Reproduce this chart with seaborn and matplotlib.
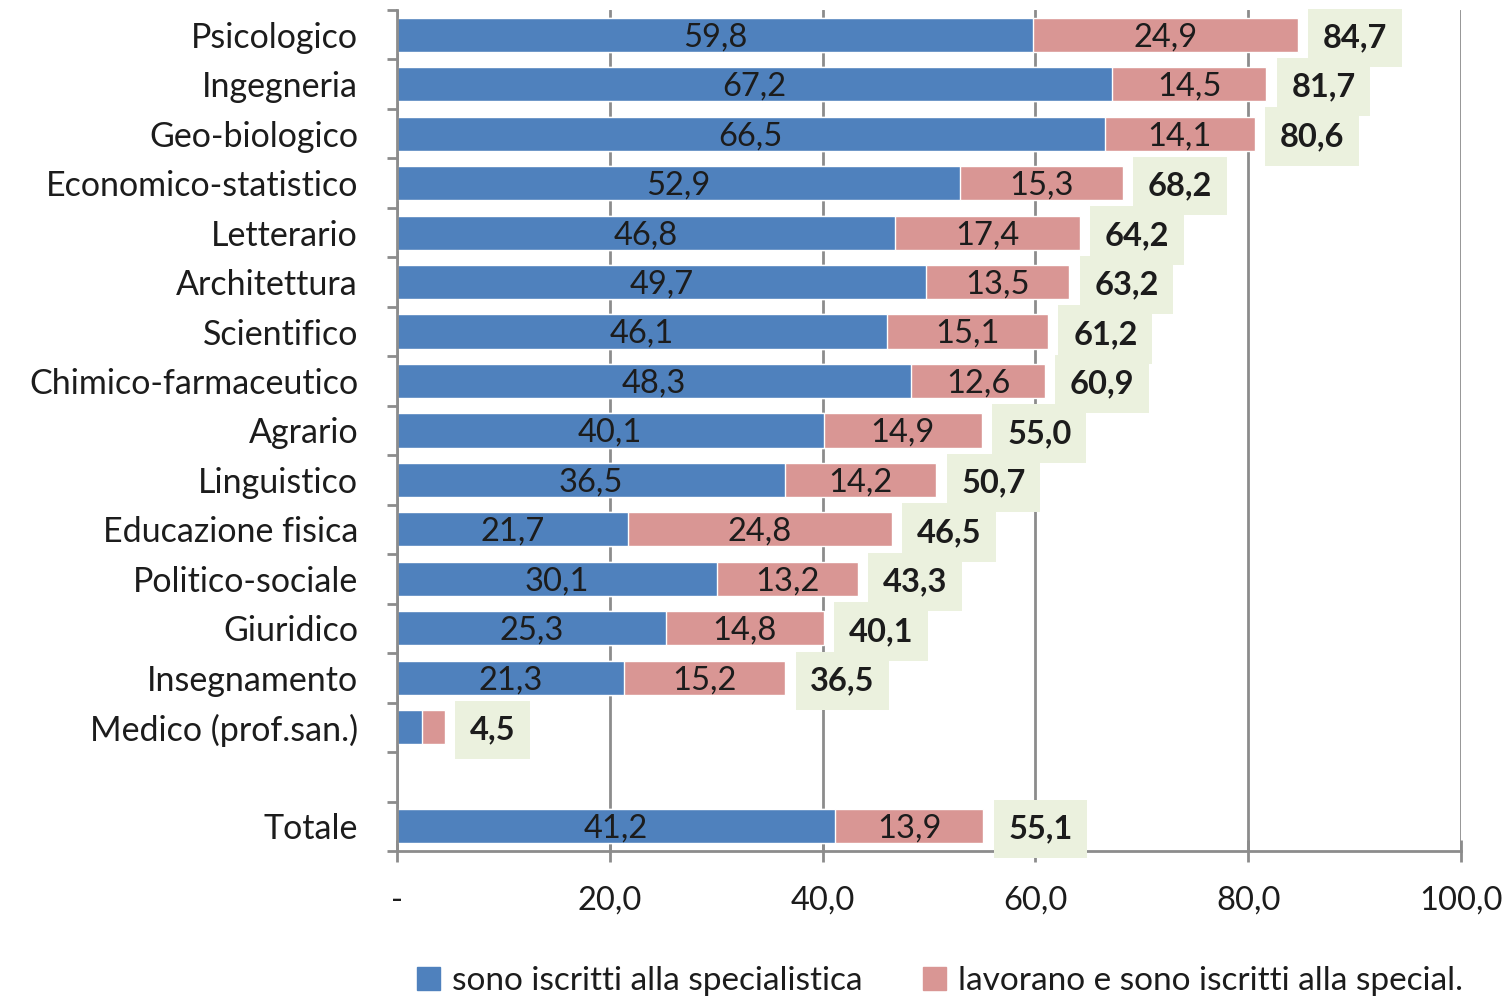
import matplotlib
matplotlib.use("Agg")
import matplotlib.pyplot as plt
import matplotlib.patches as mpatches
from matplotlib.ticker import FixedLocator, FuncFormatter
import seaborn as sns
import pandas as pd

categories = [
    "Psicologico", "Ingegneria", "Geo-biologico", "Economico-statistico",
    "Letterario", "Architettura", "Scientifico", "Chimico-farmaceutico",
    "Agrario", "Linguistico", "Educazione fisica", "Politico-sociale",
    "Giuridico", "Insegnamento", "Medico (prof.san.)", "Totale",
]
iscritti = [59.8, 67.2, 66.5, 52.9, 46.8, 49.7, 46.1, 48.3, 40.1, 36.5,
            21.7, 30.1, 25.3, 21.3, 2.4, 41.2]
lavorano = [24.9, 14.5, 14.1, 15.3, 17.4, 13.5, 15.1, 12.6, 14.9, 14.2,
            24.8, 13.2, 14.8, 15.2, 2.1, 13.9]
totali = [84.7, 81.7, 80.6, 68.2, 64.2, 63.2, 61.2, 60.9, 55.0, 50.7,
          46.5, 43.3, 40.1, 36.5, 4.5, 55.1]
series_names = ["sono iscritti alla specialistica",
                "lavorano e sono iscritti alla special."]

BLUE = "#4F81BD"
PINK = "#D99694"
BOXC = "#EBF1DE"
GRID = "#8C8C8C"
TXT = "#1C1C1C"

sns.set_theme(style="white")
plt.rcParams["font.family"] = ["Lato", "DejaVu Sans"]

df = pd.DataFrame({
    "cat": categories,
    "iscritti": iscritti,
    "lavorano": lavorano,
    "cumulato": [a + b for a, b in zip(iscritti, lavorano)],
    "totale": totali,
})
order = categories[:-1] + [" "] + categories[-1:]

fig = plt.figure(figsize=(15.11, 9.96), dpi=100)
ax = fig.add_axes([0.2627, 0.1456, 0.7042, 0.8444])

sns.barplot(data=df, y="cat", x="cumulato", order=order, orient="h",
            color=PINK, saturation=1, width=0.69, ax=ax, zorder=3)
sns.barplot(data=df, y="cat", x="iscritti", order=order, orient="h",
            color=BLUE, saturation=1, width=0.69, ax=ax, zorder=4)

ax.set_xlim(0, 100)
ax.set_ylim(len(order) - 0.5, -0.5)
ax.set_xlabel("")
ax.set_ylabel("")

FS = 23.5
pos = {c: order.index(c) for c in categories}
for _, r in df.iterrows():
    y = pos[r["cat"]]
    if r["iscritti"] > 5:
        ax.text(r["iscritti"] / 2, y + 0.05, f"{r['iscritti']:.1f}".replace(".", ","),
                ha="center", va="center", fontsize=FS, color=TXT, zorder=6)
    if r["lavorano"] > 5:
        ax.text(r["iscritti"] + r["lavorano"] / 2, y + 0.05,
                f"{r['lavorano']:.1f}".replace(".", ","),
                ha="center", va="center", fontsize=FS, color=TXT, zorder=6)
    ax.annotate(f"{r['totale']:.1f}".replace(".", ","),
                xy=(r["cumulato"], y), xytext=(25, -3), textcoords="offset pixels",
                ha="left", va="center", fontsize=FS, color=TXT, fontweight="bold",
                zorder=7,
                bbox=dict(boxstyle="square,pad=0.45", fc=BOXC, ec="none"))

# axes styling
for s in ("top", "right"):
    ax.spines[s].set_visible(False)
for s in ("left", "bottom"):
    ax.spines[s].set_color(GRID)
    ax.spines[s].set_linewidth(2)
    ax.spines[s].set_zorder(5)

ax.set_xticks([0, 20, 40, 60, 80, 100])
ax.xaxis.set_major_formatter(FuncFormatter(
    lambda v, p: "-" if v == 0 else f"{v:.1f}".replace(".", ",")))
ax.tick_params(axis="x", direction="inout", length=16, width=2, color=GRID,
               labelsize=FS, labelcolor=TXT, pad=17, bottom=True)
ax.grid(axis="x", color=GRID, linewidth=2, zorder=0)
ax.set_axisbelow(True)

ax.yaxis.set_minor_locator(FixedLocator([i - 0.5 for i in range(len(order) + 1)]))
ax.tick_params(axis="y", which="major", length=0, labelsize=24.5, labelcolor=TXT, pad=28)
ax.tick_params(axis="y", which="minor", direction="out", length=7, width=2,
               color=GRID, left=True)

handles = [mpatches.Patch(color=BLUE, label=series_names[0]),
           mpatches.Patch(color=PINK, label=series_names[1])]
fig.legend(handles=handles, loc="lower center", bbox_to_anchor=(0.622, -0.03),
           ncol=2, frameon=False, fontsize=24, handlelength=0.7, handleheight=0.7,
           handletextpad=0.35, columnspacing=1.8, labelcolor=TXT)

fig.savefig("out.png", dpi=100)
